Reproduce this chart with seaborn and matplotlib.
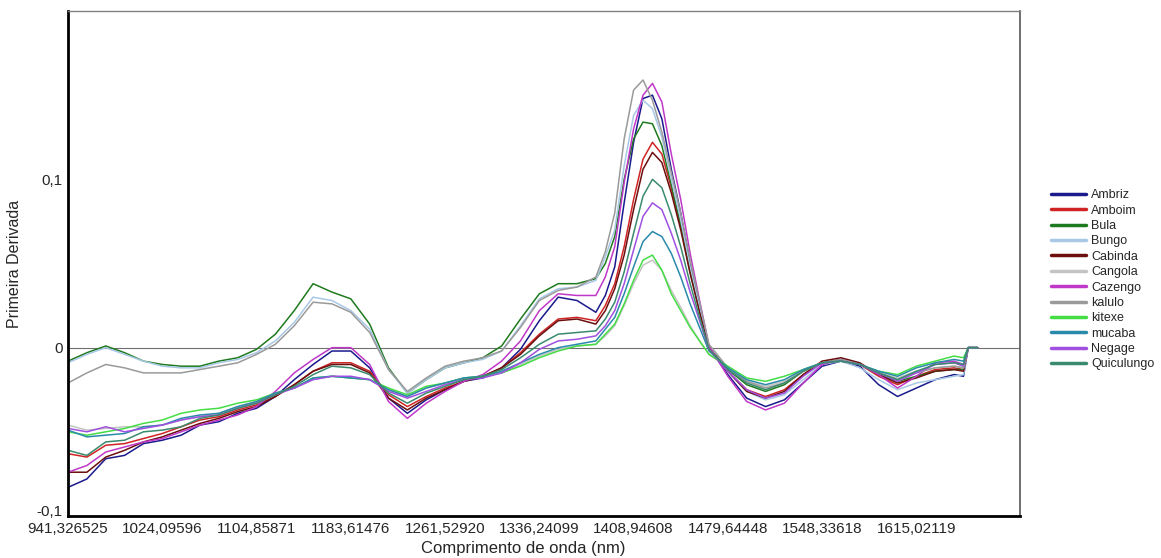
import numpy as np
import pandas as pd
import matplotlib
matplotlib.use('Agg')
import matplotlib.pyplot as plt
import seaborn as sns
from matplotlib.ticker import FixedLocator

sns.set_style("white")
plt.rcParams['font.family'] = ['Liberation Sans', 'DejaVu Sans']

# indice do ponto espectral (eixo categórico, como no software original)
ponto = [0, 4, 8, 12, 16, 20, 24, 28, 32, 36, 40, 44, 48, 52, 56, 60, 64, 68, 72, 76,
         80, 84, 88, 92, 96, 100, 104, 108, 112,
         114, 116, 118, 120, 122, 124, 126, 128, 130, 132, 134, 136,
         140, 144, 148, 152, 156, 160, 164, 168, 172, 176, 180, 184, 188,
         190, 191, 193]

rotulos_x = ['941,326525', '1024,09596', '1104,85871', '1183,61476', '1261,52920',
             '1336,24099', '1408,94608', '1479,64448', '1548,33618', '1615,02119']

# Primeira derivada de cada amostra
ambriz = [-0.083, -0.078, -0.066, -0.064, -0.057, -0.055, -0.052, -0.046, -0.044, -0.039,
          -0.036, -0.029, -0.019, -0.010, -0.002, -0.002, -0.012, -0.030, -0.039, -0.031,
          -0.025, -0.020, -0.018, -0.012, -0.001, 0.016, 0.030, 0.028, 0.021,
          0.031, 0.048, 0.086, 0.122, 0.148, 0.150, 0.136, 0.106, 0.080, 0.050, 0.025, 0.000,
          -0.016, -0.030, -0.035, -0.031, -0.021, -0.011, -0.008, -0.011, -0.022, -0.029, -0.024, -0.019, -0.016,
          -0.017, 0.0, 0.0]
amboim = [-0.063, -0.065, -0.058, -0.057, -0.054, -0.051, -0.047, -0.043, -0.041, -0.037,
          -0.034, -0.029, -0.022, -0.014, -0.009, -0.009, -0.014, -0.028, -0.035, -0.029,
          -0.024, -0.020, -0.017, -0.012, -0.003, 0.008, 0.017, 0.018, 0.016,
          0.025, 0.038, 0.060, 0.088, 0.112, 0.122, 0.115, 0.095, 0.072, 0.045, 0.022, 0.000,
          -0.014, -0.025, -0.029, -0.025, -0.016, -0.009, -0.007, -0.010, -0.017, -0.022, -0.017, -0.013, -0.012,
          -0.013, 0.0, 0.0]
bula = [-0.008, -0.003, 0.001, -0.003, -0.008, -0.010, -0.011, -0.011, -0.008, -0.006,
        -0.001, 0.008, 0.022, 0.038, 0.033, 0.029, 0.014, -0.012, -0.027, -0.019,
        -0.012, -0.009, -0.006, 0.001, 0.017, 0.032, 0.038, 0.038, 0.041,
        0.050, 0.066, 0.100, 0.124, 0.134, 0.133, 0.120, 0.097, 0.073, 0.046, 0.023, 0.000,
        -0.013, -0.022, -0.026, -0.022, -0.014, -0.009, -0.007, -0.010, -0.016, -0.020, -0.017, -0.014, -0.013,
        -0.013, 0.0, 0.0]
bungo = [-0.009, -0.004, 0.000, -0.004, -0.008, -0.011, -0.012, -0.012, -0.009, -0.007,
         -0.003, 0.004, 0.015, 0.030, 0.028, 0.022, 0.011, -0.013, -0.027, -0.019,
         -0.012, -0.009, -0.007, -0.002, 0.013, 0.029, 0.035, 0.036, 0.040,
         0.054, 0.070, 0.108, 0.138, 0.147, 0.142, 0.125, 0.100, 0.076, 0.048, 0.024, 0.000,
         -0.014, -0.026, -0.031, -0.028, -0.019, -0.010, -0.008, -0.012, -0.019, -0.025, -0.021, -0.019, -0.017,
         -0.016, 0.0, 0.0]
cabinda = [-0.074, -0.074, -0.065, -0.061, -0.056, -0.053, -0.049, -0.045, -0.042, -0.038,
           -0.035, -0.029, -0.022, -0.014, -0.010, -0.010, -0.015, -0.030, -0.037, -0.030,
           -0.025, -0.020, -0.017, -0.012, -0.004, 0.007, 0.016, 0.017, 0.014,
           0.022, 0.035, 0.055, 0.082, 0.106, 0.116, 0.110, 0.092, 0.070, 0.044, 0.021, 0.000,
           -0.014, -0.026, -0.030, -0.026, -0.016, -0.008, -0.006, -0.009, -0.016, -0.021, -0.018, -0.014, -0.013,
           -0.014, 0.0, 0.0]
cangola = [-0.046, -0.049, -0.048, -0.047, -0.047, -0.046, -0.043, -0.041, -0.039, -0.035,
           -0.032, -0.027, -0.024, -0.019, -0.017, -0.018, -0.019, -0.025, -0.029, -0.024,
           -0.021, -0.018, -0.017, -0.015, -0.010, -0.005, -0.001, 0.001, 0.002,
           0.007, 0.013, 0.025, 0.038, 0.049, 0.052, 0.046, 0.034, 0.024, 0.013, 0.004, -0.004,
           -0.012, -0.020, -0.023, -0.020, -0.014, -0.009, -0.008, -0.010, -0.015, -0.018, -0.014, -0.012, -0.011,
           -0.012, 0.0, 0.0]
cazengo = [-0.074, -0.070, -0.062, -0.059, -0.056, -0.054, -0.050, -0.046, -0.043, -0.040,
           -0.035, -0.026, -0.015, -0.007, 0.000, 0.000, -0.010, -0.032, -0.042, -0.033,
           -0.026, -0.020, -0.016, -0.008, 0.004, 0.022, 0.032, 0.031, 0.031,
           0.042, 0.060, 0.098, 0.130, 0.150, 0.157, 0.146, 0.115, 0.088, 0.056, 0.028, 0.001,
           -0.017, -0.032, -0.037, -0.033, -0.021, -0.010, -0.007, -0.010, -0.016, -0.024, -0.017, -0.009, -0.008,
           -0.010, 0.0, 0.0]
kalulo = [-0.021, -0.015, -0.010, -0.012, -0.015, -0.015, -0.015, -0.013, -0.011, -0.009,
          -0.004, 0.002, 0.013, 0.027, 0.026, 0.021, 0.009, -0.013, -0.026, -0.018,
          -0.011, -0.008, -0.006, -0.002, 0.012, 0.028, 0.034, 0.036, 0.042,
          0.057, 0.080, 0.124, 0.153, 0.159, 0.147, 0.128, 0.104, 0.080, 0.052, 0.027, 0.002,
          -0.012, -0.020, -0.024, -0.021, -0.014, -0.009, -0.007, -0.010, -0.015, -0.019, -0.015, -0.012, -0.011,
          -0.012, 0.0, 0.0]
kitexe = [-0.050, -0.052, -0.050, -0.048, -0.045, -0.043, -0.039, -0.037, -0.036, -0.033,
          -0.031, -0.027, -0.024, -0.018, -0.017, -0.018, -0.019, -0.024, -0.028, -0.023,
          -0.021, -0.018, -0.017, -0.015, -0.011, -0.006, -0.002, 0.001, 0.002,
          0.008, 0.014, 0.026, 0.040, 0.052, 0.055, 0.046, 0.032, 0.022, 0.012, 0.004, -0.004,
          -0.011, -0.018, -0.020, -0.017, -0.013, -0.009, -0.008, -0.010, -0.014, -0.016, -0.011, -0.008, -0.005,
          -0.006, 0.0, 0.0]
mucaba = [-0.049, -0.053, -0.052, -0.051, -0.047, -0.046, -0.042, -0.040, -0.039, -0.035,
          -0.032, -0.027, -0.024, -0.018, -0.017, -0.018, -0.019, -0.025, -0.029, -0.024,
          -0.021, -0.018, -0.017, -0.014, -0.009, -0.004, 0.000, 0.002, 0.004,
          0.011, 0.018, 0.032, 0.048, 0.063, 0.069, 0.066, 0.056, 0.042, 0.026, 0.012, -0.002,
          -0.012, -0.019, -0.022, -0.019, -0.013, -0.009, -0.008, -0.010, -0.014, -0.017, -0.012, -0.009, -0.007,
          -0.008, 0.0, 0.0]
negage = [-0.048, -0.050, -0.047, -0.050, -0.048, -0.046, -0.043, -0.041, -0.040, -0.036,
          -0.033, -0.028, -0.024, -0.019, -0.017, -0.017, -0.019, -0.026, -0.030, -0.026,
          -0.022, -0.019, -0.018, -0.015, -0.009, -0.001, 0.004, 0.005, 0.007,
          0.013, 0.022, 0.038, 0.058, 0.078, 0.086, 0.082, 0.068, 0.052, 0.033, 0.016, -0.001,
          -0.014, -0.025, -0.030, -0.027, -0.017, -0.009, -0.008, -0.010, -0.015, -0.020, -0.015, -0.010, -0.009,
          -0.011, 0.0, 0.0]
quiculungo = [-0.061, -0.064, -0.056, -0.055, -0.050, -0.049, -0.047, -0.042, -0.040, -0.036,
              -0.033, -0.028, -0.023, -0.016, -0.011, -0.012, -0.016, -0.027, -0.033, -0.027,
              -0.023, -0.019, -0.017, -0.013, -0.006, 0.002, 0.008, 0.009, 0.010,
              0.017, 0.027, 0.045, 0.068, 0.090, 0.100, 0.095, 0.079, 0.060, 0.038, 0.018, -0.001,
              -0.013, -0.021, -0.025, -0.021, -0.014, -0.009, -0.008, -0.010, -0.015, -0.019, -0.014, -0.010, -0.009,
              -0.010, 0.0, 0.0]

amostras = ['Ambriz', 'Amboim', 'Bula', 'Bungo', 'Cabinda', 'Cangola', 'Cazengo',
            'kalulo', 'kitexe', 'mucaba', 'Negage', 'Quiculungo']
cores = ['#1a1a8c', '#d02424', '#1e7a1e', '#a8c8e6', '#6b0f0f', '#c4c4c4', '#c038c8',
         '#9a9a9a', '#44dd44', '#2a8aaa', '#a050e0', '#3a8a6e']

df = pd.DataFrame({'Ambriz': ambriz, 'Amboim': amboim, 'Bula': bula, 'Bungo': bungo,
                   'Cabinda': cabinda, 'Cangola': cangola, 'Cazengo': cazengo,
                   'kalulo': kalulo, 'kitexe': kitexe, 'mucaba': mucaba,
                   'Negage': negage, 'Quiculungo': quiculungo})
df['ponto'] = ponto
df_long = df.melt(id_vars='ponto', var_name='Amostra', value_name='Derivada')

fig = plt.figure(figsize=(11.61, 5.58), dpi=100)
ax = fig.add_axes([0.0586, 0.0753, 0.820, 0.905])

sns.lineplot(data=df_long, x='ponto', y='Derivada', hue='Amostra', hue_order=amostras,
             palette=dict(zip(amostras, cores)), estimator=None, lw=1.1, ax=ax)
ax.axhline(0, color='#707070', lw=0.8, zorder=0)

ax.set_xlim(0, 202)
ax.set_ylim(-0.1, 0.2)
ax.set_xticks(range(0, 181, 20))
ax.set_xticklabels(rotulos_x)
ax.xaxis.set_minor_locator(FixedLocator(range(0, 194)))
ax.set_yticks([-0.1, 0, 0.1])
ax.set_yticklabels(['-0,1', '0', '0,1'])
ax.get_yticklabels()[0].set_verticalalignment('baseline')
ax.yaxis.set_minor_locator(FixedLocator([-0.05, 0.05, 0.15]))
ax.tick_params(axis='both', which='both', direction='out', length=3, width=0.8,
               color='#555555', labelsize=11, pad=1)

ax.set_xlabel('Comprimento de onda (nm)', fontsize=12)
ax.xaxis.set_label_coords(0.478, -0.05, transform=ax.transAxes)
ax.xaxis.label.set_verticalalignment('top')
ax.set_ylabel('Primeira Derivada', fontsize=11.5, labelpad=10)

for lado in ['left', 'bottom']:
    ax.spines[lado].set_color('black')
    ax.spines[lado].set_linewidth(2)
ax.spines['top'].set_color('#808080')
ax.spines['top'].set_linewidth(1)
ax.spines['right'].set_color('#555555')
ax.spines['right'].set_linewidth(1.2)

leg = ax.legend(loc='upper left', bbox_to_anchor=(1040 / 1161, 1 - 178 / 558),
                bbox_transform=fig.transFigure, frameon=False, fontsize=9,
                handlelength=2.8, labelspacing=0.27, handletextpad=0.4, title=None)
for h in leg.get_lines():
    h.set_linewidth(2.5)

fig.savefig('out.png', dpi=100)
